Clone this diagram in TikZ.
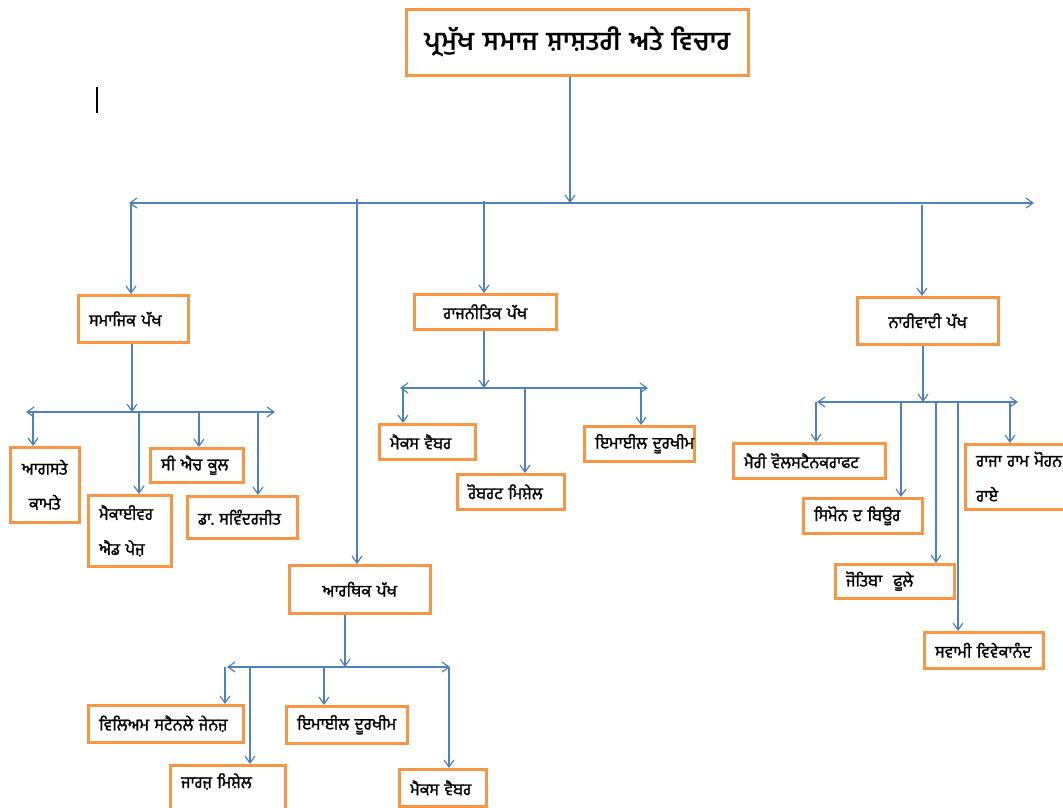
\documentclass[tikz,border=0pt]{standalone}
\usepackage{fontspec}
\newfontfamily\pa[Script=Gurmukhi,FakeBold=1.5]{Hind Jalandhar}
\newfontfamily\pahead[Script=Gurmukhi]{Hind Jalandhar}
\usetikzlibrary{arrows.meta}
\definecolor{boxorange}{HTML}{F79646}
\definecolor{lineblue}{HTML}{4F81BD}

\begin{document}
\begin{tikzpicture}[
  x=1pt,y=-1pt,
  pbox/.style 2 args={rectangle,draw=boxorange,line width=2.5pt,fill=white,anchor=north west,inner xsep=11pt,inner ysep=0pt,text width=#1,minimum height=#2,align=left,font=\pa\fontsize{16.5}{35}\selectfont},
  hbox/.style 2 args={pbox={#1}{#2},align=center},
  arr/.style={draw=lineblue,line width=1.2pt,-{Straight Barb[length=7pt,width=10pt]}},
  bar/.style={draw=lineblue,line width=1.2pt,{Straight Barb[length=7pt,width=10pt]}-{Straight Barb[length=7pt,width=10pt]}}
]
\useasboundingbox (0,0) rectangle (1063,807);

\node[hbox={320pt}{66pt},font=\pahead\bfseries\fontsize{26}{30}\selectfont] (title) at (405,8) {ਪ੍ਰਮੁੱਖ ਸਮਾਜ ਸ਼ਾਸ਼ਤਰੀ ਅਤੇ ਵਿਚਾਰ};
\draw[black,line width=1.5pt] (97,87) -- (97,113);

\node[pbox={88pt}{47pt}] (sm) at (77,294) {ਸਮਾਜਿਕ~ਪੱਖ};
\node[hbox={120pt}{35pt}] (rj) at (413,293) {ਰਾਜਨੀਤਿਕ~ਪੱਖ};
\node[hbox={119pt}{47pt}] (nr) at (856,296) {ਨਾਰੀਵਾਦੀ~ਪੱਖ};
\node[hbox={119pt}{48pt}] (ar) at (288,564) {ਆਰਥਿਕ~ਪੱਖ};

\node[hbox={47pt}{75pt}] (ag) at (9,446) {ਆਗਸਤੇ\\ਕਾਮਤੇ};
\node[pbox={61pt}{71pt}] (mk) at (87,494) {ਮੈਕਾਈਵਰ\\ਐਡ~ਪੇਜ਼};
\node[pbox={71pt}{34pt}] (ch) at (149,447) {ਸੀ~ਐਚ~ਕੂਲ};
\node[pbox={88pt}{42pt}] (dr) at (186,495) {ਡਾ.~ਸਵਿੰਦਰਜੀਤ};

\node[pbox={74pt}{35pt}] (mw1) at (378,423) {ਮੈਕਸ~ਵੈਬਰ};
\node[pbox={85pt}{35pt}] (rm) at (456,473) {ਰੋਬਰਟ~ਮਿਸ਼ੇਲ};
\node[pbox={88pt}{35pt}] (ed1) at (583,425) {ਇਮਾਈਲ~ਦੂਰਖੀਮ};

\node[pbox={130pt}{35pt}] (mr) at (732,442) {ਮੈਰੀ~ਵੋਲਸਟੈਨਕਰਾਫਟ};
\node[pbox={97pt}{35pt}] (sb) at (802,497) {ਸਿਮੋਨ~ਦ~ਬਿਊਰ};
\node[pbox={97pt}{34pt}] (jp) at (834,563) {ਜੋਤਿਬਾ~~ਫੂਲੇ};
\node[pbox={97pt}{36pt}] (sv) at (923,631) {ਸਵਾਮੀ~ਵਿਵੇਕਾਨੰਦ};
\node[pbox={98pt}{65pt}] (rr) at (964,443) {ਰਾਜਾ~ਰਾਮ~ਮੋਹਨ\\ਰਾਏ};

\node[pbox={133pt}{37pt}] (wj) at (87,704) {ਵਿਲਿਅਮ~ਸਟੈਨਲੇ~ਜੇਨਜ਼};
\node[pbox={93pt}{10pt},inner ysep=8pt,text depth=30pt] (gm) at (169,764) {ਜਾਰਜ਼~ਮਿਸ਼ੇਲ};
\node[pbox={99pt}{37pt}] (ed2) at (285,705) {ਇਮਾਈਲ~ਦੂਰਖੀਮ};
\node[pbox={65pt}{37pt}] (mw3) at (398,768) {ਮੈਕਸ~ਵੈਬਰ};

\coordinate (tb) at (570,203);
\coordinate (tbl) at (129,203);
\coordinate (tbr) at (1034,203);
\draw[arr] (tb |- title.south) -- (tb);
\draw[bar] (tbl) -- (tbr);
\foreach \x/\y/\n in {131/203/sm,357/199/ar,484/201/rj,922/205/nr}{
  \coordinate (tap) at (\x,\y);
  \draw[arr] (tap) -- (tap |- \n.north);
}

\coordinate (sbar) at (132,412);
\coordinate (sbl) at (26,412);
\coordinate (sbr) at (275,412);
\draw[arr] (sbar |- sm.south) -- (sbar);
\draw[bar] (sbl) -- (sbr);
\foreach \x/\n in {33/ag,139/mk,199/ch,258/dr}{
  \coordinate (tap) at (\x,412);
  \draw[arr] (tap) -- (tap |- \n.north);
}

\coordinate (rbar) at (484,388);
\coordinate (rbl) at (400,388);
\coordinate (rbr) at (648,388);
\draw[arr] (rbar |- rj.south) -- (rbar);
\draw[bar] (rbl) -- (rbr);
\foreach \x/\n in {403/mw1,525/rm,641/ed1}{
  \coordinate (tap) at (\x,388);
  \draw[arr] (tap) -- (tap |- \n.north);
}

\coordinate (nbar) at (923,402);
\coordinate (nbl) at (817,402);
\coordinate (nbr) at (1018,402);
\draw[arr] (nbar |- nr.south) -- (nbar);
\draw[bar] (nbl) -- (nbr);
\foreach \x/\n in {816/mr,901/sb,936/jp,958/sv,1010/rr}{
  \coordinate (tap) at (\x,402);
  \draw[arr] (tap) -- (tap |- \n.north);
}

\coordinate (abar) at (345,667);
\coordinate (abl) at (227,667);
\coordinate (abr) at (450,667);
\draw[arr] (abar |- ar.south) -- (abar);
\draw[bar] (abl) -- (abr);
\foreach \x/\n in {225/wj,250/gm,324/ed2,449/mw3}{
  \coordinate (tap) at (\x,667);
  \draw[arr] (tap) -- (tap |- \n.north);
}

\end{tikzpicture}
\end{document}
